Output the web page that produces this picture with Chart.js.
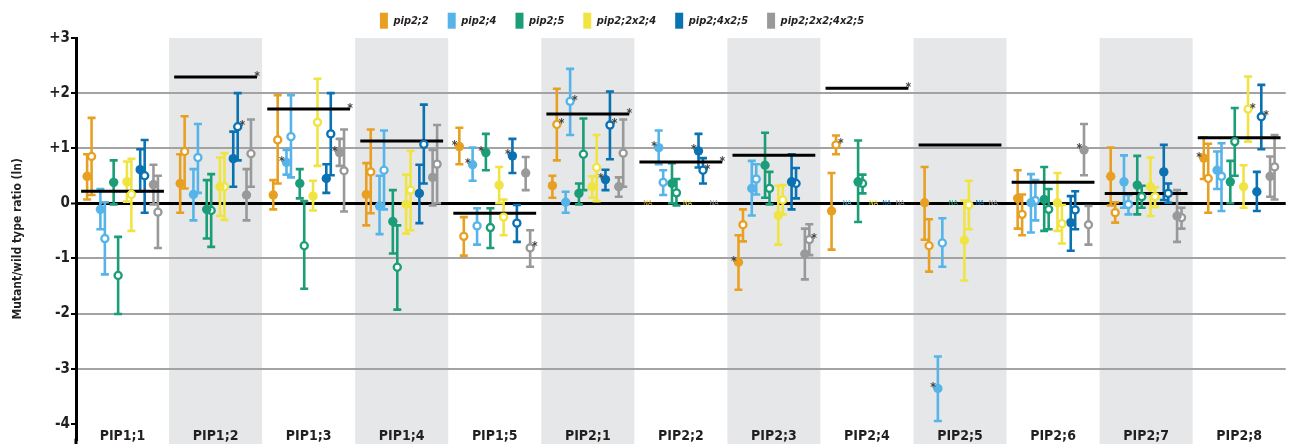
<!DOCTYPE html>
<html><head><meta charset="utf-8">
<script src="https://cdn.jsdelivr.net/npm/chart.js@4.4.1/dist/chart.umd.min.js"></script>
<style>html,body{margin:0;padding:0;background:#fff;}#wrap{width:1292px;height:446px;position:relative;}</style>
</head><body><div id="wrap"><canvas id="c"></canvas></div>
<script>
const categories = ['PIP1;1','PIP1;2','PIP1;3','PIP1;4','PIP1;5','PIP2;1','PIP2;2','PIP2;3','PIP2;4','PIP2;5','PIP2;6','PIP2;7','PIP2;8'];
const seriesNames = ['pip2;2','pip2;4','pip2;5','pip2;2x2;4','pip2;4x2;5','pip2;2x2;4x2;5'];
const yTickValues = [3,2,1,0,-1,-2,-3,-4];
const yTickLabels = ['+3','+2','+1','0','-1','-2','-3','-4'];
const wtLine = [0.22,2.29,1.71,1.13,-0.18,1.62,0.75,0.87,2.09,1.06,0.38,0.18,1.19];
const wtStar = [0,1,1,0,0,1,1,0,1,0,0,0,0];

// pip2;2
const pip2_2_solid   = [0.49,0.36,0.15,0.16,1.03,0.32,null,-1.07,-0.14,0.01,0.09,0.49,0.82];
const pip2_2_solidLo = [0.07,-0.17,-0.11,-0.40,0.71,0.10,null,-1.57,-0.84,-0.66,-0.46,-0.04,0.44];
const pip2_2_solidHi = [0.89,0.89,0.42,0.73,1.37,0.50,null,-0.58,0.55,0.66,0.60,1.01,1.20];
const pip2_2_open    = [0.85,0.94,1.15,0.57,-0.60,1.43,null,-0.39,1.06,-0.77,-0.20,-0.17,0.45];
const pip2_2_openLo  = [0.15,0.27,0.36,-0.18,-0.95,0.78,null,-0.69,0.89,-1.24,-0.58,-0.35,-0.17];
const pip2_2_openHi  = [1.55,1.58,1.96,1.34,-0.25,2.08,null,-0.11,1.23,-0.29,0.16,0.02,1.08];
// pip2;4
const pip2_4_solid   = [-0.11,0.16,0.74,-0.05,0.70,0.02,1.01,0.27,null,-3.36,0.01,0.39,0.60];
const pip2_4_solidLo = [-0.47,-0.31,0.52,-0.56,0.41,-0.17,0.71,-0.22,null,-3.95,-0.53,-0.08,0.26];
const pip2_4_solidHi = [0.26,0.62,0.97,0.50,1.01,0.21,1.32,0.77,null,-2.78,0.53,0.87,0.94];
const pip2_4_open    = [-0.64,0.83,1.21,0.60,-0.41,1.85,0.38,0.44,null,-0.72,0.05,-0.02,0.49];
const pip2_4_openLo  = [-1.29,0.19,0.47,-0.11,-0.75,1.24,0.15,0.16,null,-1.15,-0.31,-0.20,-0.14];
const pip2_4_openHi  = [0.02,1.44,1.96,1.32,-0.09,2.44,0.60,0.71,null,-0.27,0.42,0.15,1.09];
// pip2;5
const pip2_5_solid   = [0.38,-0.11,0.36,-0.33,0.92,0.18,0.36,0.69,0.39,null,0.07,0.33,0.39];
const pip2_5_solidLo = [-0.02,-0.64,0.09,-0.91,0.60,-0.02,0.00,0.10,-0.34,null,-0.50,-0.20,0.00];
const pip2_5_solidHi = [0.78,0.42,0.62,0.24,1.26,0.36,0.73,1.28,1.14,null,0.66,0.86,0.77];
const pip2_5_open    = [-1.31,-0.13,-0.77,-1.16,-0.44,0.89,0.19,0.27,0.36,null,-0.11,0.12,1.12];
const pip2_5_openLo  = [-2.01,-0.79,-1.55,-1.93,-0.81,0.24,-0.04,-0.02,0.18,null,-0.47,-0.08,0.50];
const pip2_5_openHi  = [-0.61,0.53,0.04,-0.40,-0.09,1.54,0.44,0.57,0.52,null,0.26,0.32,1.73];
// pip2;2x2;4
const pip2_2x2_4_solid   = [0.39,0.30,0.13,-0.02,0.33,0.30,null,-0.22,null,-0.67,0.01,0.30,0.30];
const pip2_2x2_4_solidLo = [0.03,-0.23,-0.13,-0.55,0.00,0.10,null,-0.75,null,-1.40,-0.50,-0.23,-0.08];
const pip2_2x2_4_solidHi = [0.76,0.83,0.41,0.52,0.66,0.49,null,0.32,null,0.05,0.55,0.83,0.69];
const pip2_2x2_4_open    = [0.16,0.30,1.47,0.24,-0.25,0.65,null,0.06,null,-0.03,-0.37,0.12,1.71];
const pip2_2x2_4_openLo  = [-0.50,-0.30,0.68,-0.49,-0.58,0.04,null,-0.20,null,-0.47,-0.73,-0.07,1.12];
const pip2_2x2_4_openHi  = [0.81,0.91,2.26,0.95,0.07,1.24,null,0.33,null,0.41,-0.03,0.29,2.30];
// pip2;4x2;5
const pip2_4x2_5_solid   = [0.61,0.81,0.45,0.18,0.86,0.43,0.95,0.39,null,null,-0.35,0.57,0.21];
const pip2_4x2_5_solidLo = [0.22,0.30,0.19,-0.36,0.55,0.24,0.65,-0.11,null,null,-0.86,0.06,-0.14];
const pip2_4x2_5_solidHi = [0.98,1.30,0.71,0.70,1.17,0.61,1.26,0.89,null,null,0.13,1.06,0.57];
const pip2_4x2_5_open    = [0.50,1.39,1.26,1.07,-0.36,1.42,0.60,0.36,null,null,-0.12,0.18,1.57];
const pip2_4x2_5_openLo  = [-0.17,0.78,0.51,0.36,-0.70,0.80,0.36,0.09,null,null,-0.47,0.01,0.98];
const pip2_4x2_5_openHi  = [1.15,2.00,2.00,1.79,-0.03,2.03,0.82,0.64,null,null,0.22,0.36,2.15];
// pip2;2x2;4x2;5
const pip2_2x2_4x2_5_solid   = [0.34,0.15,0.92,0.47,0.55,0.30,null,-0.92,null,null,0.97,-0.23,0.49];
const pip2_2x2_4x2_5_solidLo = [-0.02,-0.31,0.68,-0.04,0.24,0.12,null,-1.38,null,null,0.51,-0.70,0.12];
const pip2_2x2_4x2_5_solidHi = [0.70,0.62,1.17,0.97,0.84,0.47,null,-0.46,null,null,1.44,0.24,0.85];
const pip2_2x2_4x2_5_open    = [-0.16,0.90,0.59,0.71,-0.81,0.91,null,-0.66,null,null,-0.39,-0.26,0.66];
const pip2_2x2_4x2_5_openLo  = [-0.81,0.30,-0.15,0.00,-1.15,0.30,null,-0.94,null,null,-0.75,-0.46,0.07];
const pip2_2x2_4x2_5_openHi  = [0.50,1.52,1.34,1.42,-0.49,1.52,null,-0.38,null,null,-0.05,-0.08,1.24];

// significance marks [seriesIndex, groupIndex]
const starsSolid = [[1,2],[5,2],[0,4],[1,4],[2,4],[4,4],[4,5],[1,6],[4,6],[0,7],[1,9],[5,10],[0,12]];
const starsOpen  = [[4,1],[5,4],[0,5],[1,5],[4,5],[4,6],[5,7],[0,8],[3,12],[4,12]];
const naMarks    = [[0,6],[3,6],[5,6],[1,8],[3,8],[4,8],[5,8],[2,9],[4,9],[5,9]];

const seriesColors = ['#E8A023','#56B4E9','#1B9E77','#F0E442','#0A72B2','#999999'];
const FF = "'Liberation Sans Narrow','Arial Narrow','DejaVu Sans Condensed','Roboto Condensed','Liberation Sans',sans-serif";
const TXT = '#231f20';

const seriesData = [
  {solid:pip2_2_solid, solidLo:pip2_2_solidLo, solidHi:pip2_2_solidHi, open:pip2_2_open, openLo:pip2_2_openLo, openHi:pip2_2_openHi},
  {solid:pip2_4_solid, solidLo:pip2_4_solidLo, solidHi:pip2_4_solidHi, open:pip2_4_open, openLo:pip2_4_openLo, openHi:pip2_4_openHi},
  {solid:pip2_5_solid, solidLo:pip2_5_solidLo, solidHi:pip2_5_solidHi, open:pip2_5_open, openLo:pip2_5_openLo, openHi:pip2_5_openHi},
  {solid:pip2_2x2_4_solid, solidLo:pip2_2x2_4_solidLo, solidHi:pip2_2x2_4_solidHi, open:pip2_2x2_4_open, openLo:pip2_2x2_4_openLo, openHi:pip2_2x2_4_openHi},
  {solid:pip2_4x2_5_solid, solidLo:pip2_4x2_5_solidLo, solidHi:pip2_4x2_5_solidHi, open:pip2_4x2_5_open, openLo:pip2_4x2_5_openLo, openHi:pip2_4x2_5_openHi},
  {solid:pip2_2x2_4x2_5_solid, solidLo:pip2_2x2_4x2_5_solidLo, solidHi:pip2_2x2_4x2_5_solidHi, open:pip2_2x2_4x2_5_open, openLo:pip2_2x2_4x2_5_openLo, openHi:pip2_2x2_4x2_5_openHi}
];

const SERIES_STEP = 0.1426, PAIR_OFF = 0.024;
const seriesOffset = s => (s - 2.5) * SERIES_STEP;
const xPos = (s, g, kind) => g + seriesOffset(s) + (kind === 'solid' ? -PAIR_OFF : PAIR_OFF);

const datasets = [];
seriesData.forEach((sd, s) => {
  ['solid','open'].forEach(kind => {
    const pts = [];
    sd[kind].forEach((v, g) => {
      if (v === null) return;
      pts.push({x: xPos(s, g, kind), y: v, lo: sd[kind + 'Lo'][g], hi: sd[kind + 'Hi'][g]});
    });
    datasets.push({
      type: 'scatter', label: seriesNames[s] + ' ' + kind, data: pts, isPoint: true, barColor: seriesColors[s],
      pointRadius: kind === 'solid' ? 4.7 : 3.55,
      pointBackgroundColor: kind === 'solid' ? seriesColors[s] : '#ffffff',
      pointBorderColor: seriesColors[s],
      pointBorderWidth: kind === 'solid' ? 0 : 2.3,
      order: 0
    });
  });
});
const wtData = [];
wtLine.forEach((v, g) => { wtData.push({x: g - 0.445, y: v}, {x: g + 0.445, y: v}, {x: g + 0.5, y: null}); });
datasets.push({type: 'line', label: 'WT', data: wtData, borderColor: '#000', borderWidth: 3, pointRadius: 0, spanGaps: false, order: 5, fill: false});

const bandsPlugin = {
  id: 'bands',
  beforeDraw(chart) {
    const {ctx, chartArea, scales: {x}} = chart;
    ctx.save(); ctx.fillStyle = '#e6e7e8';
    const bottom = chart.height - 2;
    categories.forEach((c, g) => {
      if (g % 2 === 1) {
        const l = x.getPixelForValue(g - 0.5), r = x.getPixelForValue(g + 0.5);
        ctx.fillRect(l, chartArea.top, r - l, bottom - chartArea.top);
      }
    });
    // continue the y axis line down to the bottom edge
    ctx.fillStyle = '#000';
    ctx.fillRect(chartArea.left - 1.5, chartArea.bottom - 1, 3, bottom - chartArea.bottom + 1);
    ctx.restore();
  }
};
const errorBarPlugin = {
  id: 'errorBars',
  beforeDatasetsDraw(chart) {
    const {ctx, scales: {x, y}} = chart;
    ctx.save(); ctx.lineWidth = 2.6; ctx.lineCap = 'butt';
    chart.data.datasets.forEach(ds => {
      if (!ds.isPoint) return;
      ctx.strokeStyle = ds.barColor;
      ds.data.forEach(p => {
        const px = x.getPixelForValue(p.x), pl = y.getPixelForValue(p.lo), ph = y.getPixelForValue(p.hi);
        ctx.beginPath();
        ctx.moveTo(px, ph); ctx.lineTo(px, pl);
        ctx.moveTo(px - 4, ph); ctx.lineTo(px + 4, ph);
        ctx.moveTo(px - 4, pl); ctx.lineTo(px + 4, pl);
        ctx.stroke();
      });
    });
    ctx.restore();
  }
};
const marksPlugin = {
  id: 'marks',
  afterDatasetsDraw(chart) {
    const {ctx, scales: {x, y}} = chart;
    ctx.save();
    ctx.textAlign = 'center'; ctx.textBaseline = 'middle';
    ctx.font = 'bold 12px ' + FF; ctx.fillStyle = '#444';
    starsSolid.forEach(([s, g]) => {
      ctx.fillText('*', x.getPixelForValue(xPos(s, g, 'solid')) - 4.7, y.getPixelForValue(seriesData[s].solid[g]) - 0.7);
    });
    starsOpen.forEach(([s, g]) => {
      ctx.fillText('*', x.getPixelForValue(xPos(s, g, 'open')) + 4.7, y.getPixelForValue(seriesData[s].open[g]) - 0.7);
    });
    wtLine.forEach((v, g) => {
      if (wtStar[g]) ctx.fillText('*', x.getPixelForValue(g + 0.445), y.getPixelForValue(v) + 0.2);
    });
    ctx.font = '7px ' + FF;
    naMarks.forEach(([s, g]) => {
      ctx.fillStyle = seriesColors[s];
      ctx.fillText('NA', x.getPixelForValue(g + seriesOffset(s)), y.getPixelForValue(0));
    });
    ctx.restore();
  }
};
const legendShift = {
  id: 'legendShift',
  afterLayout(chart) {
    const lg = chart.legend; if (!lg) return;
    lg.top = -6.3; lg.left -= 24; lg.right -= 24;
  }
};

new Chart(document.getElementById('c'), {
  type: 'scatter',
  data: {datasets},
  plugins: [bandsPlugin, errorBarPlugin, marksPlugin, legendShift],
  options: {
    responsive: true, maintainAspectRatio: false, animation: false, devicePixelRatio: 1,
    events: [],
    layout: {padding: 0},
    plugins: {
      tooltip: {enabled: false},
      legend: {
        display: true, position: 'top', align: 'center', maxHeight: 38, onClick: null,
        labels: {
          boxWidth: 8, boxHeight: 16, padding: 19, color: TXT,
          font: {family: FF, size: 11, weight: 'bold', style: 'italic'},
          generateLabels: () => seriesNames.map((n, i) => ({text: n, fillStyle: seriesColors[i], strokeStyle: seriesColors[i], lineWidth: 0, hidden: false, datasetIndex: i * 2, fontColor: TXT}))
        }
      }
    },
    scales: {
      x: {
        type: 'linear', min: -0.5, max: 12.5, offset: false,
        afterBuildTicks: s => { s.ticks = categories.map((c, i) => ({value: i})); },
        afterFit: s => { s.height = 0; s.paddingTop = 0; s.paddingBottom = 0; s.paddingLeft = 0; s.paddingRight = 0; },
        ticks: {callback: (v, i) => categories[i], mirror: true, padding: -5.5, autoSkip: false, maxRotation: 0, color: TXT,
          font: {family: FF, size: 14, weight: 'bold'}},
        grid: {display: false, drawTicks: false}, border: {display: false}
      },
      y: {
        min: -4.29, max: 3,
        afterBuildTicks: s => { s.ticks = yTickValues.map(v => ({value: v})); },
        afterFit: s => { s.width = 76; s.paddingTop = 0; s.paddingBottom = 0; },
        ticks: {callback: (v, i) => yTickLabels[i], padding: 1, autoSkip: false, color: TXT,
          font: {family: FF, size: 15, weight: 'bold'}},
        grid: {
          color: c => { const v = c.tick ? c.tick.value : null; if (v === 0) return '#000'; if (v === 3 || v === -4) return 'rgba(0,0,0,0)'; return '#a3a3a3'; },
          lineWidth: c => (c.tick && c.tick.value === 0) ? 3 : 2,
          tickColor: '#000', tickLength: 5, tickWidth: 2, drawTicks: true
        },
        border: {color: '#000', width: 3},
        title: {display: true, text: 'Mutant/wild type ratio (ln)', color: TXT, padding: {top: 11, bottom: 0},
          font: {family: FF, size: 12, weight: 'bold'}}
      }
    }
  }
});
</script></body></html>
